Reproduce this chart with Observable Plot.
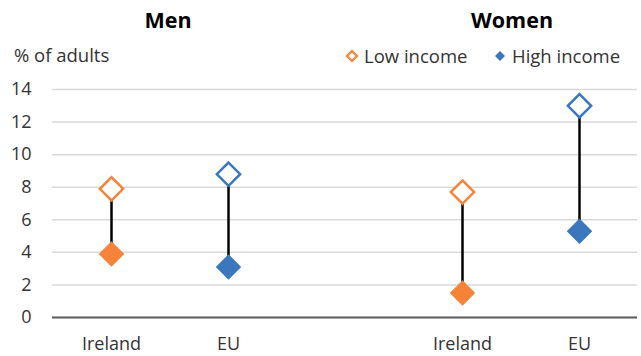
<!DOCTYPE html>
<html>
<head>
<meta charset="utf-8">
<script src="https://cdn.jsdelivr.net/npm/d3@7"></script>
<script src="https://cdn.jsdelivr.net/npm/@observablehq/plot@0.6"></script>
<style>
  body { margin: 0; background: #fff; }
  #wrap { position: relative; width: 641px; height: 356px; font-family: "Open Sans", sans-serif; color: #333; }
  #chart { position: absolute; left: 0; top: 0; }
  .title { position: absolute; top: 5px; font-weight: 700; font-size: 21.5px; color: #000; transform: translateX(-50%); white-space: nowrap; line-height: 30px; }
  .ylab { position: absolute; left: 14px; top: 42px; font-size: 18.5px; color: #333; line-height: 26px; }
  .legend { position: absolute; top: 43px; font-size: 18.5px; color: #333; display: flex; align-items: center; white-space: nowrap; line-height: 26px; }
  .legend svg { margin-right: 5px; }
</style>
</head>
<body>
<div id="wrap">
  <div id="chart"></div>
</div>
<script>
// ---- data ----
const panels = ["Men", "Women"];
const groups = ["Men", "Men", "Women", "Women"];
const countries = ["Ireland", "EU", "Ireland", "EU"];
const lowIncome = [7.9, 8.8, 7.7, 13.0];
const highIncome = [3.9, 3.1, 1.5, 5.3];
const yTicks = [0, 2, 4, 6, 8, 10, 12, 14];
const legendLabels = ["Low income", "High income"];
const yTitle = "% of adults";

const colors = { Ireland: "#f5843a", EU: "#3a77bd" };

const rows = countries.map((c, i) => ({
  key: groups[i] + "-" + c,
  group: groups[i],
  country: c,
  low: lowIncome[i],
  high: highIncome[i]
}));
const xDomain = ["Men-Ireland", "Men-EU", "gap", "Women-Ireland", "Women-EU"];

const chart = Plot.plot({
  width: 641,
  height: 356,
  marginTop: 89,
  marginBottom: 39,
  marginLeft: 52,
  marginRight: 4,
  style: { fontFamily: "Open Sans, sans-serif", fontSize: "18px", color: "#333", background: "#fff" },
  x: { type: "point", domain: xDomain, padding: 0.5, label: null },
  y: { domain: [0, 14], label: null },
  marks: [
    Plot.gridY(yTicks.filter(d => d > 0), { stroke: "#d9d9d9", strokeOpacity: 1, strokeWidth: 1.5 }),
    Plot.ruleY([0], { stroke: "#595959", strokeWidth: 2 }),
    Plot.axisY({ ticks: yTicks, tickSize: 0, tickPadding: 21, fontSize: 18, label: null }),
    Plot.axisX({ ticks: rows.map(d => d.key), tickSize: 0, tickPadding: 20, fontSize: 18,
      tickFormat: k => k.split("-")[1], label: null }),
    Plot.ruleX(rows, { x: "key", y1: "high", y2: "low", stroke: "#000", strokeWidth: 2.5 }),
    Plot.dot(rows, { x: "key", y: "low", symbol: "diamond2", r: 10.5, fill: "#fff",
      stroke: d => colors[d.country], strokeWidth: 2.5 }),
    Plot.dot(rows, { x: "key", y: "high", symbol: "diamond2", r: 11.5,
      fill: d => colors[d.country], stroke: "none" })
  ]
});
document.getElementById("chart").appendChild(chart);

const wrap = document.getElementById("wrap");
// Panel titles
const titleX = { Men: 168, Women: 512 };
panels.forEach(p => {
  const t = document.createElement("div");
  t.className = "title";
  t.style.left = titleX[p] + "px";
  t.textContent = p;
  wrap.appendChild(t);
});
// y title
const yl = document.createElement("div");
yl.className = "ylab";
yl.textContent = yTitle;
wrap.appendChild(yl);
// legend
const legendSpec = [
  { label: legendLabels[0], left: 345, fill: "#fff", stroke: colors.Ireland, s: 5 },
  { label: legendLabels[1], left: 493, fill: colors.EU, stroke: "none", s: 5 }
];
legendSpec.forEach(s => {
  const d = document.createElement("div");
  d.className = "legend";
  d.style.left = s.left + "px";
  d.innerHTML = `<svg width="14" height="14" viewBox="-7 -7 14 14"><path d="M0,-${s.s}L${s.s},0L0,${s.s}L-${s.s},0Z" fill="${s.fill}" stroke="${s.stroke}" stroke-width="2.2"/></svg><span>${s.label}</span>`;
  wrap.appendChild(d);
});
</script>
</body>
</html>
